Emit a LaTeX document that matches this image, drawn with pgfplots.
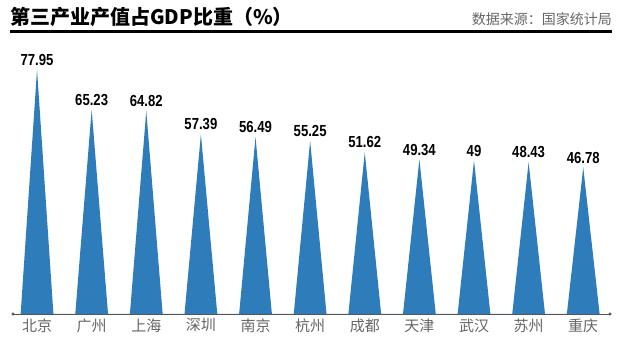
\documentclass[border=0pt]{standalone}
\usepackage{pgfplots}
\usepackage{pgfplotstable}
\pgfplotsset{compat=1.18}
\usepackage{graphicx}
\usepackage{fontspec}
\setmainfont{Liberation Sans}
\newfontfamily\cjk{Noto Sans CJK SC}
\definecolor{spike}{HTML}{2E7CBA}
\definecolor{axisgray}{HTML}{555555}
\definecolor{labgray}{HTML}{666666}

\pgfplotstableread{
x y label
0 77.95 77.95
1 65.23 65.23
2 64.82 64.82
3 57.39 57.39
4 56.49 56.49
5 55.25 55.25
6 51.62 51.62
7 49.34 49.34
8 49 49
9 48.43 48.43
10 46.78 46.78
}\data

\begin{document}
\begin{tikzpicture}
\begin{axis}[
  scale only axis, width=597pt, height=282pt,
  xmin=-0.44, xmax=10.49, ymin=0, ymax=90,
  axis x line=bottom, axis y line=none,
  x axis line style={-, draw=axisgray, line width=0.9pt},
  xtick={0,...,10},
  xticklabels={北京,广州,上海,深圳,南京,杭州,成都,天津,武汉,苏州,重庆},
  major tick length=0pt,
  xticklabel style={font=\cjk\fontsize{15}{15}\selectfont, text=labgray, yshift=-1pt},
  clip=false,
]
\addplot[fill=spike, draw=none] coordinates {
  (-0.3,0) (0,77.95) (0.3,0)
  (0.7,0) (1,65.23) (1.3,0)
  (1.7,0) (2,64.82) (2.3,0)
  (2.7,0) (3,57.39) (3.3,0)
  (3.7,0) (4,56.49) (4.3,0)
  (4.7,0) (5,55.25) (5.3,0)
  (5.7,0) (6,51.62) (6.3,0)
  (6.7,0) (7,49.34) (7.3,0)
  (7.7,0) (8,49) (8.3,0)
  (8.7,0) (9,48.43) (9.3,0)
  (9.7,0) (10,46.78) (10.3,0)
};
\addplot[draw=none, mark=none, nodes near coords={\scalebox{0.82}[1]{\pgfplotspointmeta}},
  point meta=explicit symbolic,
  nodes near coords style={font=\bfseries\fontsize{16}{16}\selectfont, text=black, anchor=south, yshift=3pt, inner sep=1pt}]
  table[x=x, y=y, meta=label] {\data};
\addplot[only marks, mark=*, mark size=1.3pt, axisgray] coordinates {(-0.44,0) (10.49,0)};
\draw[line width=3pt, black] (rel axis cs:-0.005,1) -- (rel axis cs:1.004,1);
\node[anchor=south west, font=\cjk\bfseries\fontsize{20}{20}\selectfont, inner sep=0pt]
  at ([xshift=-3pt, yshift=5pt]rel axis cs:0,1) {第三产业产值占GDP比重（\%）};
\node[anchor=south east, font=\cjk\fontsize{14}{14}\selectfont, text=labgray, inner sep=0pt]
  at ([xshift=2pt, yshift=6pt]rel axis cs:1,1) {数据来源：国家统计局};
\end{axis}
\pgfresetboundingbox
\path ([xshift=-13pt,yshift=-48pt]current axis.south west) rectangle ([xshift=18pt,yshift=32pt]current axis.north east);
\end{tikzpicture}
\end{document}
